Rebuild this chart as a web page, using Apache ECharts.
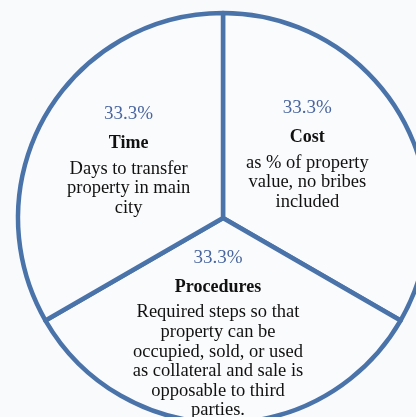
<!DOCTYPE html>
<html>
<head>
<meta charset="utf-8">
<script src="https://cdn.jsdelivr.net/npm/echarts@6/dist/echarts.min.js"></script>
<style>
  html, body { margin: 0; padding: 0; background: #f9fafc; }
  #chart { width: 416px; height: 417px; }
</style>
</head>
<body>
<div id="chart"></div>
<script>
// slices, clockwise from 12 o'clock
const names = ["Cost", "Procedures", "Time"];
const values = [1, 1, 1];
const notes = [
  "as % of property\nvalue, no bribes\nincluded",
  "Required steps so that\nproperty can be\noccupied, sold, or used\nas collateral and sale is\nopposable to third\nparties.",
  "Days to transfer\nproperty in main\ncity"
];
// small nudges so each text block sits where it does in the picture
const nudges = [[-7, -12], [-5, 9], [-3, -6]];

const total = values.reduce((a, b) => a + b, 0);

const chart = echarts.init(document.getElementById("chart"));

chart.setOption({
  backgroundColor: "#f9fafc",
  animation: false,
  series: [
    {
      type: "pie",
      center: [223, 218],
      radius: [0, 205],
      startAngle: 90,
      clockwise: true,
      silent: true,
      itemStyle: {
        color: "#fafbfd",
        borderColor: "#4a73aa",
        borderWidth: 4.5
      },
      label: {
        position: "inside",
        fontFamily: "Liberation Serif",
        formatter: (p) => {
          const pct = (values[p.dataIndex] / total * 100).toFixed(1) + "%";
          return "{pct|" + pct + "}\n{title|" + p.name + "}\n{note|" + notes[p.dataIndex].split("\n").join("}\n{note|") + "}";
        },
        rich: {
          pct: { color: "#4a66a0", fontSize: 19, lineHeight: 27, fontFamily: "Liberation Serif" },
          title: { color: "#111", fontSize: 18, fontWeight: "bold", lineHeight: 31, fontFamily: "Liberation Serif" },
          note: { color: "#111", fontSize: 18.5, lineHeight: 19.6, fontFamily: "Liberation Serif" }
        }
      },
      labelLayout: (p) => ({ dx: nudges[p.dataIndex][0], dy: nudges[p.dataIndex][1] }),
      labelLine: { show: false },
      data: names.map((n, i) => ({ name: n, value: values[i] }))
    }
  ]
});
</script>
</body>
</html>
